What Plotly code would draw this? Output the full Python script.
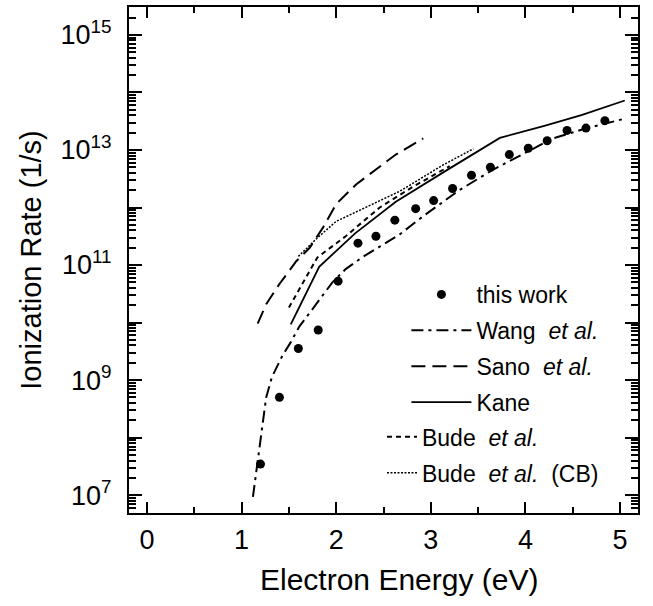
import plotly.graph_objects as go

# ---- data (energies in eV, rates as log10 of 1/s) ----
this_work_E = [1.20, 1.40, 1.60, 1.81, 2.02, 2.23, 2.42, 2.62, 2.84, 3.03,
               3.23, 3.43, 3.63, 3.83, 4.03, 4.23, 4.44, 4.64, 4.84]
this_work_log = [7.54, 8.70, 9.55, 9.87, 10.72, 11.38, 11.50, 11.78, 11.98, 12.12,
                 12.33, 12.56, 12.70, 12.92, 13.03, 13.16, 13.34, 13.38, 13.51]

wang_E = [1.12, 1.19, 1.26, 1.32, 1.43, 1.52, 1.61, 1.72, 1.82, 1.96, 2.10,
          2.28, 2.46, 2.67, 2.92, 3.30, 3.66, 3.98, 4.29, 4.61, 5.04]
wang_log = [6.97, 7.84, 8.70, 9.05, 9.42, 9.66, 9.93, 10.17, 10.40, 10.70, 10.93,
            11.14, 11.32, 11.53, 11.85, 12.30, 12.66, 12.94, 13.20, 13.36, 13.54]

sano_E = [1.17, 1.26, 1.40, 1.58, 1.72, 1.86, 2.00, 2.21, 2.42, 2.63, 2.92]
sano_log = [9.98, 10.32, 10.67, 11.07, 11.30, 11.65, 12.06, 12.40, 12.66, 12.92, 13.20]

kane_E = [1.52, 1.82, 2.20, 2.63, 3.20, 3.73, 4.20, 4.60, 5.05]
kane_log = [9.97, 10.97, 11.55, 12.10, 12.68, 13.21, 13.42, 13.61, 13.86]

bude_E = [1.50, 1.80, 2.10, 2.46, 2.80, 3.20]
bude_log = [10.26, 11.13, 11.50, 12.00, 12.35, 12.72]

bude_cb_E = [1.60, 1.80, 2.00, 2.67, 3.13, 3.45]
bude_cb_log = [11.15, 11.47, 11.76, 12.28, 12.74, 13.02]

x_ticks = [0, 1, 2, 3, 4, 5]
x_minor_ticks = [0.5, 1.5, 2.5, 3.5, 4.5]
y_decades = list(range(7, 16))
y_labeled = [7, 9, 11, 13, 15]

FONT = "Liberation Sans, Arial, sans-serif"
X_RANGE = [-0.19, 5.19]
Y_RANGE = [6.69, 15.485]


def rate(logs):
    return [10 ** v for v in logs]


fig = go.Figure()

fig.add_trace(go.Scatter(
    x=this_work_E, y=rate(this_work_log), mode="markers", name="this work",
    marker=dict(color="black", size=9), legend="legend", legendgroup="a"))
fig.add_trace(go.Scatter(
    x=wang_E, y=rate(wang_log), mode="lines", name="Wang\u00a0\u00a0<i>et al.</i>",
    line=dict(color="black", width=2, dash="12px,5px,3px,5px"),
    legend="legend", legendgroup="b"))
fig.add_trace(go.Scatter(
    x=sano_E, y=rate(sano_log), mode="lines", name="Sano\u00a0\u00a0<i>et al.</i>",
    line=dict(color="black", width=2, dash="14px,7px"),
    legend="legend", legendgroup="c"))
# Kane is drawn on the overlay axes (identical ranges) that carry the minor ticks
fig.add_trace(go.Scatter(
    x=kane_E, y=rate(kane_log), mode="lines", name="Kane",
    line=dict(color="black", width=1.8), legend="legend", legendgroup="d",
    xaxis="x2", yaxis="y2"))
fig.add_trace(go.Scatter(
    x=bude_E, y=rate(bude_log), mode="lines", name="Bude\u00a0\u00a0<i>et al.</i>",
    line=dict(color="black", width=2, dash="5px,4px"),
    legend="legend2", legendgroup="e"))
fig.add_trace(go.Scatter(
    x=bude_cb_E, y=rate(bude_cb_log), mode="lines",
    name="Bude\u00a0\u00a0<i>et al.</i>\u00a0\u00a0(CB)",
    line=dict(color="black", width=1.5, dash="2px,1.5px"),
    legend="legend2", legendgroup="f"))

minor_vals = [k * 10 ** n for n in range(6, 16) for k in range(2, 10)]

legend_common = dict(
    xanchor="left", yanchor="top", bgcolor="rgba(0,0,0,0)",
    font=dict(size=23, family=FONT), tracegroupgap=3, traceorder="grouped",
)

fig.update_layout(
    width=653, height=606,
    margin=dict(l=129, r=15, t=5, b=93),
    paper_bgcolor="white", plot_bgcolor="white",
    font=dict(family=FONT, color="black", size=26),
    showlegend=True,
    legend=dict(x=0.545, y=0.4744, itemwidth=60, **legend_common),
    legend2=dict(x=0.497, y=0.193, itemwidth=30, **legend_common),
    xaxis=dict(
        range=X_RANGE, tickmode="array", tickvals=x_ticks,
        ticktext=[str(v) for v in x_ticks],
        ticks="inside", ticklen=11, tickwidth=2, tickcolor="black",
        showline=True, linewidth=2, linecolor="black", mirror="allticks",
        showgrid=False, zeroline=False,
        tickfont=dict(size=27, family=FONT), ticklabelstandoff=2,
        title=dict(text=""),
    ),
    xaxis2=dict(
        range=X_RANGE, overlaying="x", anchor="y", side="bottom",
        tickmode="array", tickvals=x_minor_ticks,
        ticks="inside", ticklen=6, tickwidth=2, tickcolor="black",
        showticklabels=False, showline=True, linewidth=2, linecolor="black",
        mirror="allticks", showgrid=False, zeroline=False,
    ),
    yaxis=dict(
        type="log", range=Y_RANGE, tickmode="array",
        tickvals=[10 ** d for d in y_decades],
        ticktext=[("10<sup>%d</sup>" % d) if d in y_labeled else "" for d in y_decades],
        ticks="inside", ticklen=13, tickwidth=2, tickcolor="black",
        showline=True, linewidth=2, linecolor="black", mirror="allticks",
        showgrid=False, zeroline=False,
        tickfont=dict(size=27, family=FONT), ticklabelstandoff=10,
        title=dict(text="Ionization Rate (1/s)", font=dict(size=29, family=FONT),
                   standoff=10),
    ),
    yaxis2=dict(
        type="log", range=Y_RANGE, overlaying="y", anchor="x", side="left",
        tickmode="array", tickvals=minor_vals,
        ticks="inside", ticklen=7, tickwidth=1.6, tickcolor="black",
        showticklabels=False, showline=True, linewidth=2, linecolor="black",
        mirror="allticks", showgrid=False, zeroline=False,
    ),
    annotations=[dict(
        text="Electron Energy (eV)", xref="paper", yref="paper",
        x=(399 - 129) / 509, y=-(580 - 513) / 508, xanchor="center", yanchor="middle",
        showarrow=False, font=dict(size=30, family=FONT, color="black"),
    )],
)

fig.write_html("out.html")
